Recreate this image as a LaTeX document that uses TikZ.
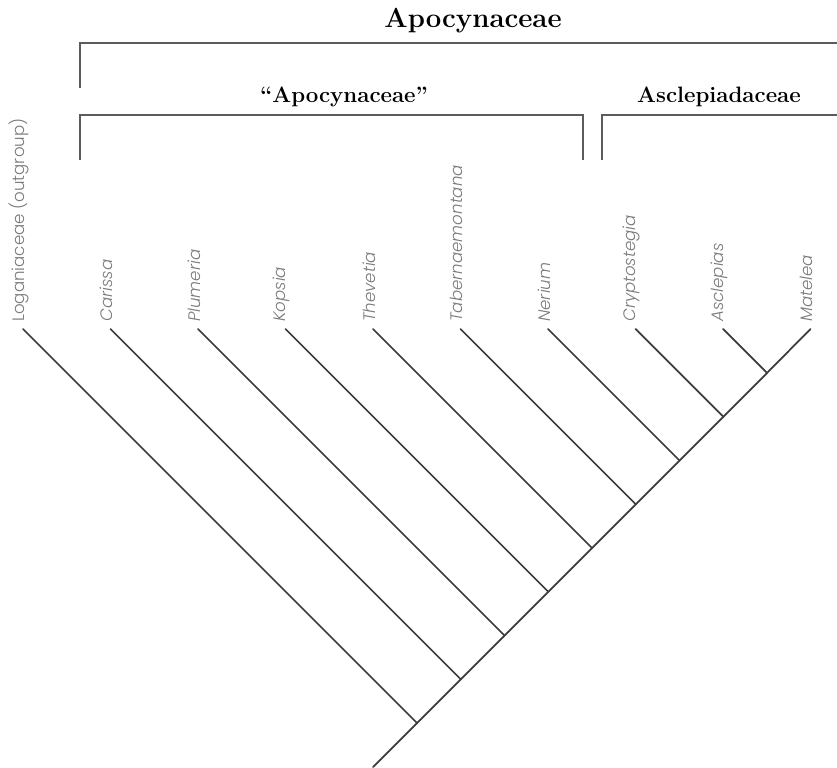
\documentclass[tikz,border=0pt]{standalone}
\usepackage{fontspec}
\IfFontExistsTF{Poppins Light Italic}{%
  \newfontfamily\lblfont{Poppins}[UprightFont={* Light},ItalicFont={* Light Italic}]}{%
  \newfontfamily\lblfont{Poppins}}
\definecolor{lblgray}{HTML}{7A7A7A}
\definecolor{brkgray}{HTML}{5C5C5C}
\definecolor{lngray}{HTML}{3C3C3C}
\tikzset{
  branch/.style={draw=lngray, line width=1.5pt, line cap=round},
  bracket/.style={draw=brkgray, line width=2.4pt},
  leaflabel/.style={rotate=90, anchor=west, inner sep=0pt, text=lblgray,
    font=\lblfont\fontsize{14.2}{16}\selectfont},
  maintitle/.style={anchor=base, inner sep=0pt, font=\bfseries\fontsize{23.5}{28}\selectfont},
  subtitle/.style={anchor=base, inner sep=0pt, font=\bfseries\fontsize{19}{23}\selectfont}
}
\begin{document}
\begin{tikzpicture}[x=0.03cm, y=-0.03cm]
\useasboundingbox (0,0) rectangle (837,768);
% tips and internal nodes
\foreach \i in {0,...,9} {
  \pgfmathsetmacro{\xx}{23+87.5*\i}
  \coordinate (t\i) at (\xx,329);
}
\foreach \i in {0,...,8} {
  \pgfmathsetmacro{\xx}{23+87.5*\i}
  \pgfmathsetmacro{\yy}{(1469-\xx)/2}
  \pgfmathsetmacro{\nx}{\xx+\yy-329}
  \coordinate (n\i) at (\nx,\yy);
}
\coordinate (root) at (373,767);
% branches
\foreach \i in {0,...,8} { \path[branch] (t\i) -- (n\i); }
\path[branch] (t9) -- (n8) -- (n7) -- (n6) -- (n5) -- (n4) -- (n3) -- (n2) -- (n1) -- (n0) -- (root);
% leaf labels
\node[leaflabel] (l0) at ([xshift=-4*0.03cm, yshift=7*0.03cm]t0) {Loganiaceae (outgroup)};
\node[leaflabel] (l1) at ([xshift=-4*0.03cm, yshift=7*0.03cm]t1) {\itshape Carissa};
\node[leaflabel] (l2) at ([xshift=-4*0.03cm, yshift=7*0.03cm]t2) {\itshape Plumeria};
\node[leaflabel] (l3) at ([xshift=-4*0.03cm, yshift=7*0.03cm]t3) {\itshape Kopsia};
\node[leaflabel] (l4) at ([xshift=-4*0.03cm, yshift=7*0.03cm]t4) {\itshape Thevetia};
\node[leaflabel] (l5) at ([xshift=-4*0.03cm, yshift=7*0.03cm]t5) {\itshape Tabernaemontana};
\node[leaflabel] (l6) at ([xshift=-4*0.03cm, yshift=7*0.03cm]t6) {\itshape Nerium};
\node[leaflabel] (l7) at ([xshift=-4*0.03cm, yshift=7*0.03cm]t7) {\itshape Cryptostegia};
\node[leaflabel] (l8) at ([xshift=-4*0.03cm, yshift=7*0.03cm]t8) {\itshape Asclepias};
\node[leaflabel] (l9) at ([xshift=-4*0.03cm, yshift=7*0.03cm]t9) {\itshape Matelea};
% brackets
\coordinate (ba1) at (80,88);  \coordinate (ba2) at (80,43);  \coordinate (ba3) at (837,43);
\coordinate (bb1) at (80,160); \coordinate (bb2) at (80,115); \coordinate (bb3) at (583,115); \coordinate (bb4) at (583,160);
\coordinate (bc1) at (602,160); \coordinate (bc2) at (602,115); \coordinate (bc3) at (837,115);
\path[bracket] (ba1) -- (ba2) -- (ba3);
\path[bracket] (bb1) -- (bb2) -- (bb3) -- (bb4);
\path[bracket] (bc1) -- (bc2) -- (bc3);
% titles
\node[maintitle] (apo) at (473,28) {Apocynaceae};
\node[subtitle] (apoq) at (344,103) {“Apocynaceae”};
\node[subtitle] (ascl) at (719,103) {Asclepiadaceae};
\end{tikzpicture}
\end{document}
